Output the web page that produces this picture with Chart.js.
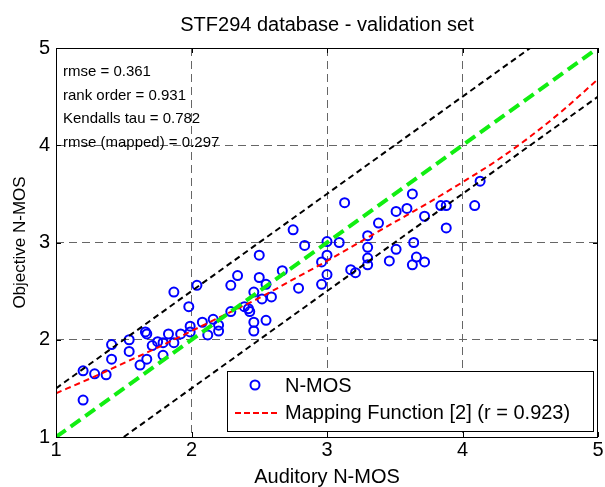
<!DOCTYPE html>
<html>
<head>
<meta charset="utf-8">
<script src="https://cdn.jsdelivr.net/npm/chart.js@4.4.1/dist/chart.umd.min.js"></script>
<style>
  html, body { margin: 0; padding: 0; background: #fff; }
</style>
</head>
<body>
<canvas id="c" width="605" height="487"></canvas>
<script>
/* ── data ── */

const auditory = [
  1.20, 1.285, 1.37, 1.20, 1.41, 1.41, 1.54, 1.54, 1.62, 1.67,
  1.66, 1.67, 1.71, 1.75, 1.79, 1.79, 1.83, 1.87, 1.87, 1.92,
  1.98, 1.99, 1.99, 2.04, 2.08, 2.12, 2.16, 2.20, 2.20, 2.29,
  2.29, 2.34, 2.39, 2.42, 2.43, 2.46, 2.46, 2.46, 2.50, 2.50,
  2.52, 2.55, 2.55, 2.59, 2.67, 2.75, 2.79, 2.835, 2.96, 2.96,
  3.00, 3.00, 3.00, 3.09, 3.13, 3.175, 3.21, 3.30, 3.30, 3.30,
  3.30, 3.38, 3.46, 3.51, 3.51, 3.59, 3.63, 3.63, 3.64, 3.66,
  3.72, 3.72, 3.84, 3.88, 3.88, 4.09, 4.13
];
const objective = [
  1.68, 1.65, 1.64, 1.38, 1.95, 1.80, 2.00, 1.88, 1.74, 1.80,
  2.08, 2.06, 1.94, 1.98, 1.97, 1.84, 2.06, 1.97, 2.49, 2.06,
  2.34, 2.14, 2.08, 2.56, 2.18, 2.05, 2.21, 2.15, 2.09, 2.29,
  2.56, 2.66, 2.34, 2.32, 2.29, 2.18, 2.09, 2.49, 2.64, 2.87,
  2.42, 2.57, 2.20, 2.44, 2.71, 3.13, 2.53, 2.97, 2.80, 2.57,
  3.01, 2.87, 2.67, 3.00, 3.41, 2.72, 2.69, 3.07, 2.95, 2.84,
  2.77, 3.20, 2.81, 3.32, 2.93, 3.35, 3.50, 2.77, 3.00, 2.85,
  3.27, 2.80, 3.38, 3.38, 3.15, 3.38, 3.63
];

// mapping function (red curve)
const mapX = [1, 1.25, 1.5, 1.75, 2, 2.25, 2.5, 2.75, 3, 3.25, 3.5, 3.75, 4, 4.25, 4.5, 4.75, 5];
const mapY = [1.45, 1.60, 1.76, 1.92, 2.09, 2.26, 2.43, 2.62, 2.81, 3.01, 3.21, 3.41, 3.62, 3.84, 4.09, 4.37, 4.68];

// reference lines: diagonal and the two bounds
const diagX  = [1, 5];
const diagY  = [1, 5];
const upperX = [1, 4.5];
const upperY = [1.5, 5];
const lowerX = [1.5, 5];
const lowerY = [1, 4.5];

const axisTicks = [1, 2, 3, 4, 5];

const titleText  = 'STF294 database - validation set';
const xTitle     = 'Auditory N-MOS';
const yTitle     = 'Objective N-MOS';
const statLines  = ['rmse = 0.361', 'rank order = 0.931', 'Kendalls tau = 0.782', 'rmse (mapped) = 0.297'];
const legendText = ['N-MOS', 'Mapping Function [2] (r = 0.923)'];

/* ── drawing ── */

const f = `'Liberation Sans', Arial, Helvetica, sans-serif`;
const pts = (xs, ys) => xs.map((v, i) => ({ x: v, y: ys[i] }));

const framePlugin = {
    id: 'frame',
    afterDraw(chart) {
        const { ctx, chartArea: { left, top, right, bottom }, scales: { x, y } } = chart;
        ctx.save();
        ctx.setLineDash([]);
        ctx.strokeStyle = '#000';
        ctx.lineWidth   = 1;

        // box + inward ticks
        ctx.strokeRect(left + 0.5, top + 0.5, right - left - 1, bottom - top);
        ctx.beginPath();
        axisTicks.forEach(v => {
            const px = Math.round(x.getPixelForValue(v)) + 0.5;
            const py = Math.round(y.getPixelForValue(v)) + 0.5;
            ctx.moveTo(px, bottom); ctx.lineTo(px, bottom - 5);
            ctx.moveTo(px, top);    ctx.lineTo(px, top + 5);
            ctx.moveTo(left, py);   ctx.lineTo(left + 5, py);
            ctx.moveTo(right, py);  ctx.lineTo(right - 5, py);
        });
        ctx.stroke();

        // title
        ctx.fillStyle    = '#000';
        ctx.textAlign    = 'center';
        ctx.textBaseline = 'middle';
        ctx.font         = `20px ${f}`;
        ctx.fillText(titleText, (left + right) / 2, top - 23);

        // stats block
        ctx.textAlign = 'left';
        ctx.font      = `15px ${f}`;
        statLines.forEach((s, i) => ctx.fillText(s, left + 7, top + 24 + i * 23.5));

        // legend
        const lx = right - 371, ly = bottom - 66, lw = 366, lh = 60;
        ctx.fillStyle = '#fff';
        ctx.fillRect(lx, ly, lw, lh);
        ctx.strokeStyle = '#000';
        ctx.strokeRect(lx + 0.5, ly + 0.5, lw, lh);

        ctx.strokeStyle = '#0000ff';
        ctx.lineWidth   = 2;
        ctx.beginPath();
        ctx.arc(lx + 28, ly + 14, 4.5, 0, Math.PI * 2);
        ctx.stroke();

        ctx.strokeStyle = '#ff0000';
        ctx.setLineDash([6, 3]);
        ctx.beginPath();
        ctx.moveTo(lx + 8, ly + 42);
        ctx.lineTo(lx + 52, ly + 42);
        ctx.stroke();

        ctx.fillStyle = '#000';
        ctx.font      = `20px ${f}`;
        ctx.fillText(legendText[0], lx + 58, ly + 15);
        ctx.fillText(legendText[1], lx + 58, ly + 42);
        ctx.restore();
    }
};

const gridColor = c => (c.tick && (c.tick.value === 1 || c.tick.value === 5)) ? 'rgba(0,0,0,0)' : '#666';

new Chart(document.getElementById('c').getContext('2d'), {
    type: 'scatter',
    plugins: [framePlugin],
    data: {
        datasets: [
            {
                label:           'y = x',
                data:            pts(diagX, diagY),
                showLine:        true,
                borderColor:     '#11ee11',
                borderWidth:     4,
                borderDash:      [12, 6],
                pointRadius:     0,
                order:           1,
            },
            {
                label:           'upper',
                data:            pts(upperX, upperY),
                showLine:        true,
                borderColor:     '#000',
                borderWidth:     2,
                borderDash:      [6, 4],
                pointRadius:     0,
                order:           2,
            },
            {
                label:           'lower',
                data:            pts(lowerX, lowerY),
                showLine:        true,
                borderColor:     '#000',
                borderWidth:     2,
                borderDash:      [6, 4],
                pointRadius:     0,
                order:           3,
            },
            {
                label:           legendText[1],
                data:            pts(mapX, mapY),
                showLine:        true,
                borderColor:     '#ff0000',
                borderWidth:     2,
                borderDash:      [6, 4],
                pointRadius:     0,
                cubicInterpolationMode: 'monotone',
                order:           4,
            },
            {
                label:           legendText[0],
                data:            pts(auditory, objective),
                showLine:        false,
                pointStyle:      'circle',
                pointRadius:     4.5,
                pointBorderWidth: 2,
                borderColor:     '#0000ff',
                backgroundColor: 'rgba(0,0,0,0)',
                order:           5,
            },
        ]
    },
    options: {
        responsive: false,
        animation:  false,
        events:     [],
        layout:     { padding: { top: 48, right: 7, left: 0, bottom: 0 } },
        plugins: {
            legend:  { display: false },
            tooltip: { enabled: false },
        },
        scales: {
            x: {
                type: 'linear',
                min: 1, max: 5,
                afterFit(s) { s.height = 50; },
                ticks:  { stepSize: 1, padding: 1, color: '#000', font: { size: 20, family: f } },
                grid:   { color: gridColor, drawTicks: false, lineWidth: 1 },
                border: { display: false, dash: [8, 5] },
                title:  { display: true, text: xTitle, color: '#000', font: { size: 20, family: f, lineHeight: 1 }, padding: 0 },
            },
            y: {
                type: 'linear',
                min: 1, max: 5,
                afterFit(s) { s.width = 56; },
                ticks:  { stepSize: 1, padding: 6, color: '#000', font: { size: 20, family: f } },
                grid:   { color: gridColor, drawTicks: false, lineWidth: 1 },
                border: { display: false, dash: [8, 5] },
                title:  { display: true, text: yTitle, color: '#000', font: { size: 17, family: f, lineHeight: 1 }, padding: { top: 12, bottom: 0 } },
            },
        },
    }
});
</script>
</body>
</html>
